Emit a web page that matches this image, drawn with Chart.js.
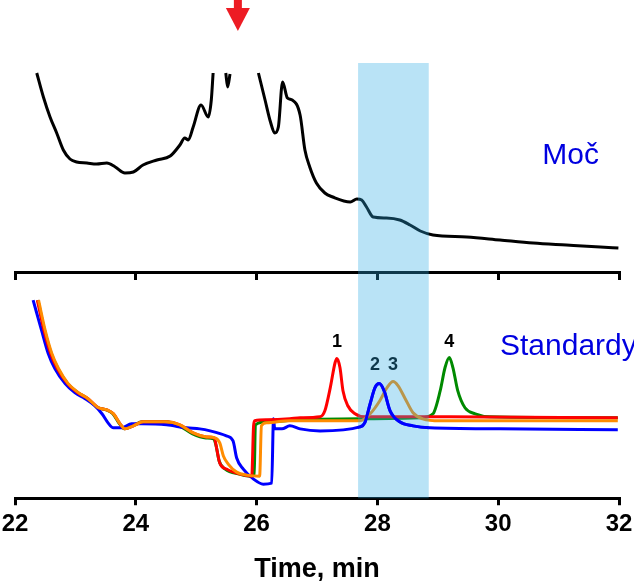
<!DOCTYPE html>
<html>
<head>
<meta charset="utf-8">
<script src="https://cdn.jsdelivr.net/npm/chart.js@4.4.1/dist/chart.umd.min.js"></script>
<style>
  body { margin: 0; background: #fff; }
  #wrap { position: relative; width: 634px; height: 581px; }
  canvas { position: absolute; left: 0; }
  #topChart { top: 0; }
  #bottomChart { top: 272px; }
</style>
</head>
<body>
<div id="wrap">
  <canvas id="topChart" width="634" height="290"></canvas>
  <canvas id="bottomChart" width="634" height="309"></canvas>
</div>
<script>
// x axis
const xTicks = [22, 24, 26, 28, 30, 32];

// urine trace (Moč), null = off scale
const mocTime = [22.36, 22.47, 22.58, 22.69, 22.80, 22.91, 23.02, 23.19, 23.35, 23.52, 23.66, 23.82, 23.96,
  24.12, 24.35, 24.57, 24.73, 24.81, 24.87, 24.95, 25.08, 25.20, 25.25, 25.28, 25.38,
  25.49, 25.52, 25.56, 25.80,
  26.03, 26.14, 26.23, 26.30, 26.36, 26.43, 26.51, 26.59, 26.72, 26.80, 26.88, 26.99, 27.13, 27.26,
  27.55, 27.66, 27.74, 27.82, 27.93, 28.15, 28.37, 28.54, 28.71, 28.92, 29.48, 30.03, 30.58, 31.13, 31.69, 31.99];
const mocSignal = [199, 175, 155, 139, 122, 113, 110, 109, 108, 109, 105, 99, 100,
  107, 112, 116, 127, 134, 132, 145, 167, 155, 172, 199, null,
  199, 185, 198, null,
  199, 172, 150, 139, 145, 190, 174, 172, 157, 122, 105, 89, 79, 75,
  70, 73, 72, 65, 55, 54, 52, 47, 41, 37, 35, 32, 29, 27, 25, 24];

// standards
const orangeTime = [22.39, 22.50, 22.61, 22.72, 22.88, 23.05, 23.21, 23.38, 23.52, 23.63, 23.74, 23.82, 23.96, 24.12,
  24.51, 24.73, 24.95, 25.17, 25.31, 25.39, 25.45, 25.53, 25.67, 25.84, 26.05, 26.08, 26.17, 26.55, 27.71,
  27.88, 28.04, 28.16, 28.26, 28.34, 28.46, 28.59, 28.75, 29.04, 31.98];
const orangeSignal = [197, 167, 144, 129, 114, 105, 99, 90, 88, 84, 74, 69, 72, 76,
  76, 73, 65, 61, 60, 55, 42, 34, 26, 23, 22, 72, 75, 77, 77,
  84, 97, 110, 116, 112, 99, 85, 79, 77, 77];

const redTime = [22.37, 22.48, 22.59, 22.70, 22.87, 23.04, 23.21, 23.38, 23.52, 23.63, 23.74, 23.82, 23.96, 24.12,
  24.51, 24.73, 24.95, 25.17, 25.30, 25.34, 25.39, 25.50, 25.72, 25.92, 25.95, 25.97, 26.17, 26.55, 26.72, 27.05,
  27.13, 27.22, 27.30, 27.33, 27.38, 27.43, 27.51, 27.63, 27.79, 29.20, 31.98];
const redSignal = [197, 167, 144, 129, 114, 105, 99, 90, 88, 84, 74, 69, 72, 76,
  76, 73, 65, 61, 60, 49, 35, 29, 24, 22, 72, 77, 78, 79, 80, 81,
  87, 110, 135, 139, 130, 107, 92, 84, 81, 81, 80];

const greenTime = [22.38, 22.49, 22.60, 22.71, 22.87, 23.04, 23.20, 23.37, 23.51, 23.62, 23.73, 23.81, 23.95, 24.11,
  24.50, 24.72, 24.94, 25.16, 25.29, 25.33, 25.38, 25.48, 25.72, 25.89, 25.96, 25.98, 26.17, 26.72, 27.71, 28.71,
  28.92, 29.04, 29.12, 29.19, 29.25, 29.33, 29.45, 29.62, 29.86, 31.98];
const greenSignal = [197, 167, 144, 129, 114, 105, 99, 90, 88, 84, 74, 69, 72, 76,
  76, 72, 64, 60, 59, 52, 37, 29, 24, 22, 23, 73, 76, 78, 79, 80,
  84, 107, 130, 140, 130, 107, 90, 84, 81, 80];

const blueTime = [22.30, 22.44, 22.55, 22.66, 22.83, 22.99, 23.16, 23.32, 23.44, 23.54, 23.63, 23.77, 23.93, 24.10,
  24.51, 24.84, 25.06, 25.23, 25.50, 25.61, 25.67, 25.78, 25.95, 26.11, 26.25, 26.28, 26.30, 26.42, 26.55, 26.72,
  27.05, 27.71, 27.79, 27.88, 27.96, 28.03, 28.11, 28.21, 28.37, 28.59, 28.87, 30.03, 31.98];
const blueSignal = [197, 167, 144, 129, 114, 105, 99, 92, 84, 75, 70, 70, 74, 74,
  73, 70, 69, 67, 62, 57, 40, 29, 19, 14, 15, 79, 69, 69, 72, 69,
  67, 71, 75, 94, 110, 114, 107, 87, 76, 72, 70, 69, 68];

// annotations
const bandRange = [27.68, 28.85];
const peakLabels = ["1", "2", "3", "4"];
const peakLabelTime = [27.33, 27.96, 28.26, 29.19];
const peakLabelLevel = [150, 128, 128, 150];
const arrowTime = 25.69;
const arrowLevels = [272, 264, 241]; // top, neck, tip (top panel units)

const toPoints = (t, v) => t.map((x, i) => ({ x: x, y: v[i] }));

Chart.defaults.font.family = "'Liberation Sans', Arial, sans-serif";
Chart.defaults.color = "#000";

const bandColor = "rgba(43, 171, 228, 0.33)";
const textBlue = "#0000e0";

function drawBand(chart) {
  const { ctx, chartArea, scales } = chart;
  const x0 = scales.x.getPixelForValue(bandRange[0]);
  const x1 = scales.x.getPixelForValue(bandRange[1]);
  ctx.save();
  ctx.fillStyle = bandColor;
  ctx.fillRect(x0, chartArea.top, x1 - x0, chartArea.bottom - chartArea.top);
  ctx.restore();
  return [x0, x1];
}

function xAxis(showLabels, tickLen) {
  return {
    type: "linear",
    min: 22,
    max: 32,
    afterBuildTicks: (axis) => {
      axis.ticks = xTicks.map((v) => ({ value: v }));
    },
    // edge labels may hang into the side padding
    afterFit: (axis) => {
      axis.paddingLeft = 0;
      axis.paddingRight = 0;
    },
    grid: {
      display: true,
      drawOnChartArea: false,
      drawTicks: true,
      tickLength: tickLen,
      lineWidth: 3,
      color: "#000",
    },
    border: { display: true, color: "#000", width: 3 },
    ticks: {
      display: showLabels,
      padding: 5,
      font: { size: 24, weight: "bold", lineHeight: 1.2 },
      color: "#000",
    },
    title: {
      display: showLabels,
      text: "Time, min",
      font: { size: 27, weight: "bold", lineHeight: 0.85 },
      padding: { top: 14, bottom: 0 },
      color: "#000",
    },
  };
}

const topPlugin = {
  id: "topDecor",
  afterDatasetsDraw(chart) {
    const { ctx, scales } = chart;
    drawBand(chart);
    // label
    ctx.save();
    ctx.fillStyle = textBlue;
    ctx.font = "30px 'Liberation Sans', Arial, sans-serif";
    ctx.textAlign = "left";
    ctx.textBaseline = "alphabetic";
    ctx.fillText("Moč", scales.x.getPixelForValue(30.73), scales.y.getPixelForValue(108));
    // red arrow
    const ax = scales.x.getPixelForValue(arrowTime);
    const yTop = scales.y.getPixelForValue(arrowLevels[0]);
    const yNeck = scales.y.getPixelForValue(arrowLevels[1]);
    const yTip = scales.y.getPixelForValue(arrowLevels[2]);
    ctx.fillStyle = "#ed1c24";
    ctx.fillRect(ax - 4, yTop, 8, yNeck - yTop + 1);
    ctx.beginPath();
    ctx.moveTo(ax - 12, yNeck);
    ctx.lineTo(ax + 12, yNeck);
    ctx.lineTo(ax, yTip);
    ctx.closePath();
    ctx.fill();
    ctx.restore();
  },
};

const bottomPlugin = {
  id: "bottomDecor",
  afterDatasetsDraw(chart) {
    const { ctx, scales, chartArea } = chart;
    ctx.save();
    ctx.fillStyle = "#000";
    ctx.font = "bold 18px 'Liberation Sans', Arial, sans-serif";
    ctx.textAlign = "center";
    ctx.textBaseline = "alphabetic";
    peakLabels.forEach((lab, i) => {
      ctx.fillText(lab, scales.x.getPixelForValue(peakLabelTime[i]), scales.y.getPixelForValue(peakLabelLevel[i]));
    });
    ctx.fillStyle = textBlue;
    ctx.font = "30px 'Liberation Sans', Arial, sans-serif";
    ctx.textAlign = "left";
    ctx.fillText("Standardy", scales.x.getPixelForValue(30.03), scales.y.getPixelForValue(142));
    ctx.restore();

    const [x0, x1] = drawBand(chart);
    // blue trace stays on top of the band
    const meta = chart.getDatasetMeta(2);
    ctx.save();
    ctx.beginPath();
    ctx.rect(x0, chartArea.top, x1 - x0, chartArea.bottom - chartArea.top);
    ctx.clip();
    meta.controller.draw();
    ctx.restore();
  },
};

const lineStyle = {
  pointRadius: 0,
  borderWidth: 3,
  cubicInterpolationMode: "monotone",
  spanGaps: false,
  fill: false,
};

new Chart(document.getElementById("topChart"), {
  type: "line",
  data: {
    datasets: [
      { ...lineStyle, data: toPoints(mocTime, mocSignal), borderColor: "#000", borderWidth: 3 },
    ],
  },
  options: {
    responsive: false,
    animation: false,
    devicePixelRatio: 1,
    layout: { padding: { top: 63, left: 15, right: 15, bottom: 10 } },
    plugins: { legend: { display: false }, tooltip: { enabled: false } },
    scales: {
      x: xAxis(false, 8),
      y: { display: false, min: 0, max: 209 },
    },
  },
  plugins: [topPlugin],
});

new Chart(document.getElementById("bottomChart"), {
  type: "line",
  data: {
    datasets: [
      { ...lineStyle, data: toPoints(orangeTime, orangeSignal), borderColor: "#ff8c00" },
      { ...lineStyle, data: toPoints(redTime, redSignal), borderColor: "#ff0000" },
      { ...lineStyle, data: toPoints(blueTime, blueSignal), borderColor: "#0000ff" },
      { ...lineStyle, data: toPoints(greenTime, greenSignal), borderColor: "#008a00" },
    ],
  },
  options: {
    responsive: false,
    animation: false,
    devicePixelRatio: 1,
    layout: { padding: { top: 0, left: 15, right: 15, bottom: 0 } },
    plugins: { legend: { display: false }, tooltip: { enabled: false } },
    scales: {
      x: xAxis(true, 7),
      y: { display: false, min: 0, max: 225 },
    },
  },
  plugins: [bottomPlugin],
});
</script>
</body>
</html>
